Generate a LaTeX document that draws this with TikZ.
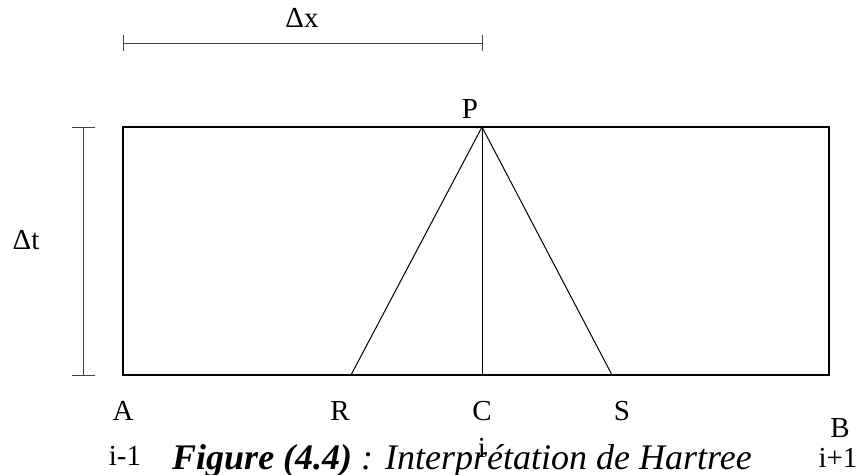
\documentclass[tikz,border=0pt]{standalone}
\usepackage{fontspec}
\setmainfont{Liberation Serif}
\usetikzlibrary{positioning}

\begin{document}
\begin{tikzpicture}[
  x=1pt, y=-1pt,
  font=\fontsize{29}{32}\selectfont,
  cell/.style={draw=black, line width=1.4pt},
  ray/.style={draw=black, line width=1pt},
  dim/.style={draw=black!75, line width=0.9pt},
  lbl/.style={anchor=base, inner sep=0pt},
  capt/.style={font=\fontsize{36}{38}\selectfont\itshape, anchor=base, inner sep=0pt},
]
  \useasboundingbox (0,0) rectangle (859,474);

  % grid points
  \coordinate (A) at (123,375);
  \coordinate (B) at (829,375);
  \coordinate (tl) at (123,127);
  \coordinate (tr) at (829,127);
  \coordinate (P) at (482,127);
  \coordinate (C) at (482,375);
  \coordinate (R) at (351,375);
  \coordinate (S) at (612,375);

  % domain and characteristics
  \draw[cell] (A) rectangle (tr);
  \draw[ray] (P) -- (R);
  \draw[ray] (P) -- (C);
  \draw[ray] (P) -- (S);

  % step sizes
  \coordinate (dxa) at (123,43);
  \coordinate (dxb) at (482,43);
  \draw[dim] (dxa) -- (dxb);
  \draw[dim] ([yshift=-8]dxa) -- ([yshift=8]dxa);
  \draw[dim] ([yshift=-8]dxb) -- ([yshift=8]dxb);
  \coordinate (dta) at (83,127);
  \coordinate (dtb) at (83,375);
  \draw[dim] (dta) -- (dtb);
  \draw[dim] ([xshift=-11]dta) -- ([xshift=12]dta);
  \draw[dim] ([xshift=-11]dtb) -- ([xshift=12]dtb);
  \node[lbl] (ldx) at (302,27) {Δx};
  \node[lbl] (ldt) at (26,249) {Δt};

  % point names
  \node[lbl] (lP) at (470,118) {P};
  \node[lbl] (lA) at (123,420) {A};
  \node[lbl] (lR) at (340,420) {R};
  \node[lbl] (lC) at (482,420) {C};
  \node[lbl] (lS) at (622,420) {S};
  \node[lbl] (lB) at (840,437) {B};

  % indices
  \node[lbl] (im) at (125,465) {i-1};
  \node[lbl] (ic) at (482,457) {i};
  \node[lbl] (ip) at (838,467) {i+1};

  % caption
  \node[capt] (cap) at (462,469) {\textbf{Figure (4.4)} : Interprétation de Hartree};
\end{tikzpicture}
\end{document}
